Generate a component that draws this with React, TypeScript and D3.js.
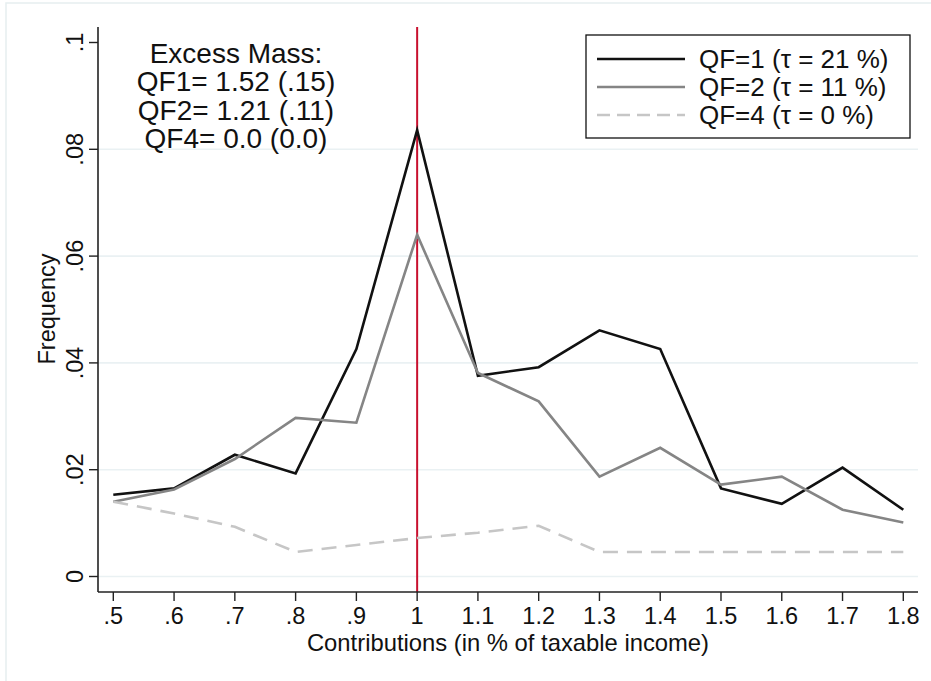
import React from "react";
import * as d3 from "d3";

const xValues = [0.5, 0.6, 0.7, 0.8, 0.9, 1.0, 1.1, 1.2, 1.3, 1.4, 1.5, 1.6, 1.7, 1.8];
const qf1 = [0.0153, 0.0165, 0.0228, 0.0193, 0.0426, 0.0836, 0.0376, 0.0392, 0.0461, 0.0426, 0.0165, 0.0136, 0.0204, 0.0125];
const qf2 = [0.014, 0.0163, 0.022, 0.0297, 0.0288, 0.064, 0.0381, 0.0328, 0.0187, 0.0241, 0.0172, 0.0187, 0.0125, 0.0101];
const qf4 = [0.014, 0.0118, 0.0093, 0.0046, 0.0059, 0.0072, 0.0082, 0.0095, 0.0046, 0.0046, 0.0046, 0.0046, 0.0046, 0.0046];
const xTickLabels = [".5", ".6", ".7", ".8", ".9", "1", "1.1", "1.2", "1.3", "1.4", "1.5", "1.6", "1.7", "1.8"];
const yTicks = [0, 0.02, 0.04, 0.06, 0.08, 0.1];
const yTickLabels = ["0", ".02", ".04", ".06", ".08", ".1"];
const gridTicks = [0, 0.02, 0.04, 0.06, 0.08];
const seriesNames = ["QF=1 (\u03c4 = 21 %)", "QF=2 (\u03c4 = 11 %)", "QF=4 (\u03c4 = 0 %)"];
const noteLines = ["Excess Mass:", "QF1= 1.52 (.15)", "QF2= 1.21 (.11)", "QF4= 0.0 (0.0)"];
const threshold = 1.0;

const FONT = "'Liberation Sans', Helvetica, Arial, sans-serif";

export default function App() {
  const W = 931, H = 681;
  const axisLeft = 98, axisRight = 918, axisTop = 27, axisBottom = 592;
  const x = d3.scaleLinear().domain([0.5, 1.8]).range([113.3, 903.3]);
  const y = d3.scaleLinear().domain([0, 0.1]).range([576.5, 42.5]);
  const line = d3.line<number>().x((_, i) => x(xValues[i])).y((d) => y(d));

  const series = [
    { data: qf1, color: "#111111", dash: undefined as string | undefined, width: 2.6 },
    { data: qf2, color: "#858585", dash: undefined as string | undefined, width: 2.6 },
    { data: qf4, color: "#c6c6c6", dash: "15,9", width: 2.6 },
  ];

  return (
    <svg width={W} height={H} style={{ position: "absolute", left: 0, top: 0, background: "#fff" }} fontFamily={FONT}>
      <rect x={6} y={3} width={W + 20} height={H + 20} fill="#fff" stroke="#e6eef0" strokeWidth={1.5} />
      {gridTicks.map((t) => (
        <line key={t} x1={axisLeft} x2={axisRight} y1={y(t)} y2={y(t)} stroke="#eaf1f3" strokeWidth={1.6} />
      ))}
      {/* threshold line */}
      <line x1={x(threshold)} x2={x(threshold)} y1={axisTop} y2={axisBottom} stroke="#c8102e" strokeWidth={2} />
      {series.map((s, i) => (
        <path key={i} d={line(s.data) || ""} fill="none" stroke={s.color} strokeWidth={s.width}
          strokeDasharray={s.dash} strokeLinejoin="miter" />
      ))}
      {/* y axis */}
      <line x1={axisLeft} x2={axisLeft} y1={axisTop} y2={axisBottom} stroke="#222" strokeWidth={1.6} />
      {yTicks.map((t, i) => (
        <g key={t}>
          <line x1={axisLeft - 9} x2={axisLeft} y1={y(t)} y2={y(t)} stroke="#222" strokeWidth={1.4} />
          <text transform={`translate(${83},${y(t)}) rotate(-90)`} textAnchor="middle" fontSize={23.5} fill="#111">
            {yTickLabels[i]}
          </text>
        </g>
      ))}
      <text transform={`translate(${55},${309}) rotate(-90)`} textAnchor="middle" fontSize={23.5} fill="#111">
        Frequency
      </text>
      {/* x axis */}
      <line x1={axisLeft} x2={axisRight} y1={axisBottom} y2={axisBottom} stroke="#222" strokeWidth={1.6} />
      {xValues.map((v, i) => (
        <g key={v}>
          <line x1={x(v)} x2={x(v)} y1={axisBottom} y2={axisBottom + 9} stroke="#222" strokeWidth={1.4} />
          <text x={x(v)} y={624} textAnchor="middle" fontSize={23.5} fill="#111">{xTickLabels[i]}</text>
        </g>
      ))}
      <text x={(axisLeft + axisRight) / 2} y={651} textAnchor="middle" fontSize={23.8} fill="#111">
        Contributions (in % of taxable income)
      </text>
      {/* note */}
      {noteLines.map((t, i) => (
        <text key={i} x={236} y={63 + i * 28.3} textAnchor="middle" fontSize={28} fill="#111">{t}</text>
      ))}
      {/* legend */}
      <rect x={586} y={35} width={324} height={103} fill="#fff" stroke="#111" strokeWidth={1.3} />
      {series.map((s, i) => (
        <g key={i}>
          <line x1={597} x2={685} y1={59 + i * 28} y2={59 + i * 28} stroke={s.color} strokeWidth={s.width}
            strokeDasharray={s.dash ? "13,7" : undefined} />
          <text x={699} y={68 + i * 28} fontSize={26} fill="#111">{seriesNames[i]}</text>
        </g>
      ))}
    </svg>
  );
}
